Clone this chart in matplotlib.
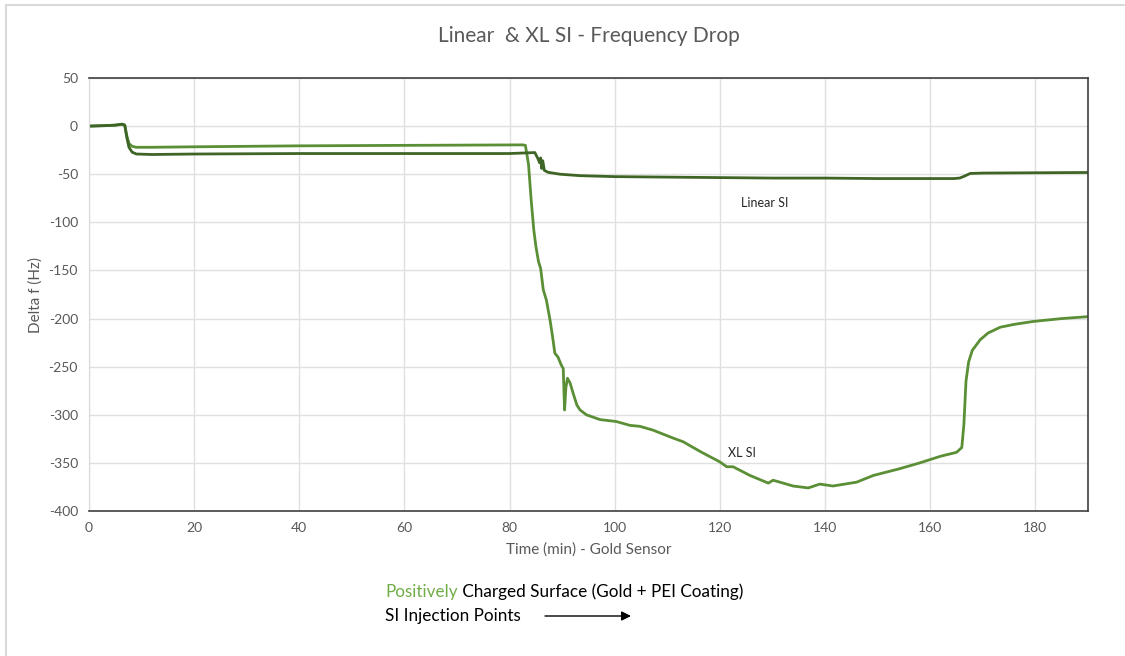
import matplotlib.pyplot as plt
from matplotlib.patches import Rectangle

plt.rcParams['font.family'] = ['Lato', 'DejaVu Sans']
plt.rcParams['axes.unicode_minus'] = False

# Linear SI run
lin_t = [0, 3, 5, 6.3, 6.8, 7.2, 7.6, 8.2, 9, 12, 20, 40, 60, 80, 84.8, 85.4,
         85.7, 85.9, 86.1, 86.3, 86.6, 87.3, 89.6, 93.4, 100, 110, 120, 130,
         140, 150, 160, 164.5, 165.6, 166.5, 167.6, 170, 180, 190]
lin_f = [0, 0.5, 1, 2, 1, -12, -22, -27, -29, -29.5, -29, -28.5, -28.5, -28.5,
         -27.5, -34, -38, -33, -44, -36, -46, -48, -50, -51.5, -52.5, -53,
         -53.5, -54, -54, -54.5, -54.5, -54.5, -54, -52, -49.2, -48.8, -48.5,
         -48.2]

# XL SI run
xl_t = [0, 3, 5, 6.3, 6.8, 7.2, 7.6, 8.2, 9, 12, 20, 40, 60, 82.5, 83.0, 83.6,
        84.1, 84.6, 85.0, 85.5, 85.9, 86.4, 87.0, 87.7, 88.2, 88.6, 89.2, 89.8,
        90.2, 90.45, 90.7, 91.0, 91.5, 92.1, 92.8, 93.4, 94.6, 97.2, 100.3,
        102.9, 104.8, 107.3, 111, 113, 116.2, 120, 121.3, 122.5, 125.7, 129.2,
        130.1, 131.4, 133.9, 136.8, 139, 141.5, 146, 149.2, 154.2, 158, 162,
        165, 166.0, 166.4, 166.8, 167.3, 168, 169.5, 171, 173.3, 176, 179.6,
        185, 190]
xl_f = [0, 0.5, 1, 2, 1, -10, -18, -21, -22, -22, -21.5, -20.5, -20, -19.5,
        -20, -40, -77, -108, -125, -141, -148, -170, -181, -202, -220, -236,
        -240, -248, -252, -295, -272, -262, -267, -278, -290, -295, -300, -305,
        -307, -311, -312, -316, -324, -328, -338, -349, -354, -354, -363, -371,
        -368, -370, -374, -376, -372, -374, -370, -363, -356, -350, -343, -339,
        -334, -310, -265, -245, -233, -222, -215, -209, -206, -203, -200, -198]

x_ticks = list(range(0, 181, 20))
y_ticks = list(range(-400, 51, 50))

grey = '#595959'
fig = plt.figure(figsize=(11.25, 6.56), dpi=100)
ax = fig.add_axes([0.0791, 0.2210, 0.888, 0.6601])

ax.plot(xl_t, xl_f, color='#5b8f36', lw=2.0)
ax.plot(lin_t, lin_f, color='#3e6526', lw=2.0)

ax.set_xlim(0, 190)
ax.set_ylim(-400, 50)
ax.set_xticks(x_ticks)
ax.set_yticks(y_ticks)
ax.grid(color='#e0e0e0', lw=1)
ax.set_axisbelow(True)
ax.tick_params(length=0, labelsize=10, colors=grey, pad=8)
for side in ['top', 'right', 'bottom']:
    ax.spines[side].set_color('#404040')
    ax.spines[side].set_linewidth(1.2)
ax.spines['left'].set_color('#d9d9d9')

ax.set_title('Linear  & XL SI - Frequency Drop', fontsize=15, color=grey, pad=26)
ax.set_xlabel('Time (min) - Gold Sensor', fontsize=11, color=grey, labelpad=6)
ax.set_ylabel('Delta f (Hz)', fontsize=11, color=grey, labelpad=4)

ax.text(124, -80, 'Linear SI', fontsize=9, color='#262626', va='center')
ax.text(121.5, -340, 'XL SI', fontsize=9, color='#262626', va='center')

# notes under the chart
t1 = fig.text(385 / 1125, 1 - 592 / 656, 'Positively', fontsize=12.3,
              color='#70ad47', va='center')
ax.annotate(' Charged Surface (Gold + PEI Coating)', xy=(1, 0.5),
            xycoords=t1, fontsize=12.3, color='black', va='center',
            annotation_clip=False)
fig.text(385 / 1125, 1 - 616 / 656, 'SI Injection Points', fontsize=12.3,
         color='black', va='center')
ax.annotate('', xy=(631 / 1125, 1 - 616 / 656), xytext=(545 / 1125, 1 - 616 / 656),
            xycoords='figure fraction', annotation_clip=False,
            arrowprops=dict(arrowstyle='-|>', color='black', lw=1,
                            mutation_scale=14, shrinkA=0, shrinkB=0))

# chart frame
fig.add_artist(Rectangle((6 / 1125, -0.1), 1.2, 1.1 - 5 / 656,
                         transform=fig.transFigure, fill=False,
                         edgecolor='#d9d9d9', lw=1.5))

fig.savefig('out.png', dpi=100)
